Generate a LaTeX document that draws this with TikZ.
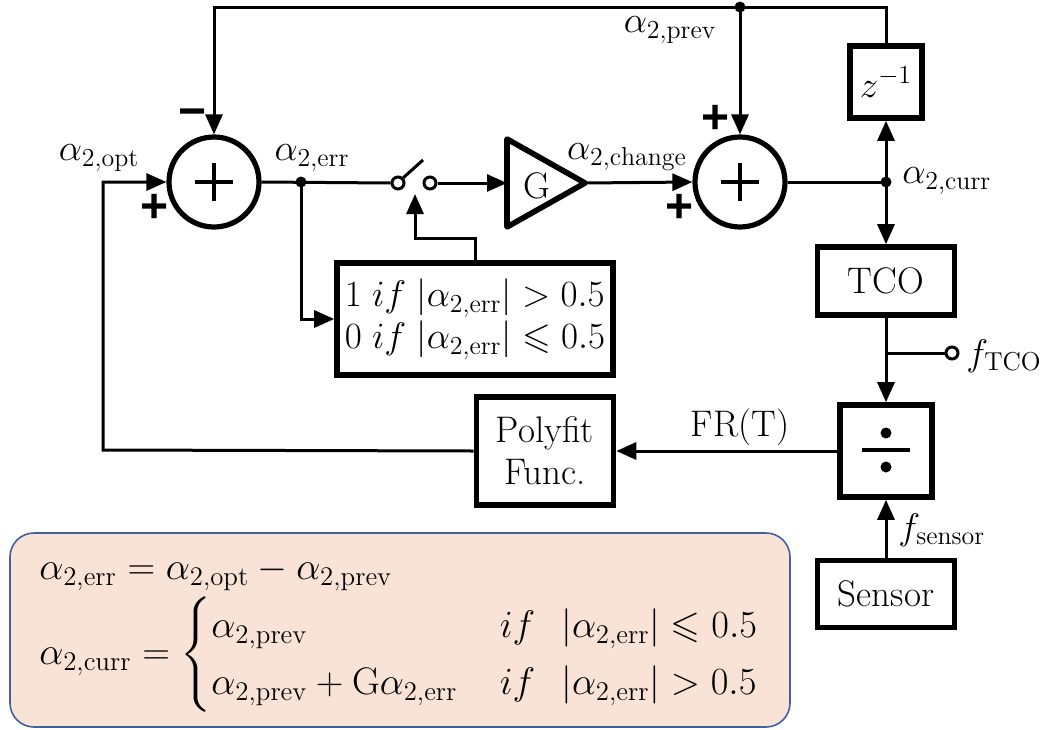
\documentclass[tikz,border=0pt]{standalone}
\usepackage{fix-cm}
\usepackage{amsmath,amssymb}
\usepackage{fontspec}
\newfontfamily\sgnfont{Liberation Sans}
\usetikzlibrary{arrows.meta}
\definecolor{peach}{HTML}{F9E3D6}
\definecolor{bborder}{HTML}{41609F}
\tikzset{
  every node/.style={font=\fontsize{18.5}{21}\selectfont, inner sep=1pt},
  conn/.style={line width=1.5pt, -{Triangle[length=10pt,width=8.5pt]}},
  wire/.style={line width=1.5pt},
  blk/.style={draw, line width=2.8pt, rectangle, inner sep=2pt},
  sumc/.style={draw, circle, line width=2.6pt, minimum size=45pt, inner sep=0pt},
  pin/.style={draw, circle, line width=1.5pt, minimum size=6pt, inner sep=0pt, fill=white},
  jdot/.style={circle, fill=black, minimum size=5.5pt, inner sep=0pt},
  sgn/.style={font=\fontsize{24}{24}\sgnfont\bfseries, inner sep=0pt},
  eqn/.style={font=\fontsize{19.2}{23}\selectfont, anchor=west}
}
\begin{document}
\begin{tikzpicture}[x=0.5pt,y=-0.5pt]
\useasboundingbox (0,0) rectangle (1050,729);

% formula box
\node[draw=bborder, fill=peach, line width=0.8pt, rounded corners=12pt,
      minimum width=390pt, minimum height=97pt] (fbox) at (400,630) {};
\node[eqn] (eq1) at (37,574)
  {$\alpha_{2,\mathrm{err}} = \alpha_{2,\mathrm{opt}} - \alpha_{2,\mathrm{prev}}$};
\node[eqn] (eq2) at (37,655)
  {$\alpha_{2,\mathrm{curr}} = \begin{cases}
     \alpha_{2,\mathrm{prev}} & if\hspace{13pt} |\alpha_{2,\mathrm{err}}| \leqslant 0.5\\[1pt]
     \alpha_{2,\mathrm{prev}} + \mathrm{G}\alpha_{2,\mathrm{err}}\hspace{2pt} & if\hspace{13pt} |\alpha_{2,\mathrm{err}}| > 0.5
   \end{cases}$};

% summers
\node[sumc] (s1) at (214,182) {};
\node[sumc] (s2) at (740,182) {};
\foreach \s in {s1,s2}{
  \draw[line width=2.2pt] (\s.center) +(-19,0) -- +(19,0);
  \draw[line width=2.2pt] (\s.center) +(0,-19) -- +(0,19);
}

% sign labels
\node[sgn] (m1) at (193,118) {−};
\node[sgn] (p1) at (155,208) {+};
\node[sgn] (p2) at (716,119) {+};
\node[sgn] (p3) at (680,208) {+};

% blocks
\node[blk, minimum width=36pt, minimum height=36pt] (zb) at (886,82) {$z^{-1}$};
\node[blk, minimum width=68.5pt, minimum height=34pt] (tco) at (886,281) {TCO};
\node[blk, minimum width=46pt, minimum height=46pt] (dv) at (886,451) {};
\node[blk, minimum width=68.5pt, minimum height=54pt, align=center] (poly) at (545,451) {Polyfit\\Func.};
\node[blk, minimum width=68.5pt, minimum height=33.5pt] (sens) at (886,594) {Sensor};
\node[blk, minimum width=138pt, minimum height=56pt, align=left] (cond) at (475,319)
  {$1\;if\;|\alpha_{2,\mathrm{err}}| > 0.5$\\$0\;if\;|\alpha_{2,\mathrm{err}}| \leqslant 0.5$};

% divider symbol
\fill (886,433) circle (5.5);
\fill (886,467) circle (5.5);
\draw[line width=2.2pt] (862,450) -- (910,450);

% gain triangle
\coordinate (gin) at (507,183);
\coordinate (gout) at (585,183);
\draw[line width=2.8pt, line join=round] (507,139) -- (gout) -- (507,227) -- cycle;
\node (g) at (537,186) {G};

% switch
\node[pin] (sw1) at (398,183) {};
\node[pin] (sw2) at (430,183) {};
\coordinate (lev) at (423,160);
\draw[wire] (sw1.north east) -- (lev);
\coordinate (swc) at (415,194);

% junctions
\coordinate (topL) at (214,7);
\coordinate (pdot) at (740,7);
\coordinate (edot) at (301,182);
\coordinate (cdot) at (886,182);
\coordinate (br) at (886,353);
\coordinate (inL) at (103,450);
\node[pin] (fo) at (952,353) {};

% connectors
\draw[conn] (zb.north) |- (topL) -- (s1.north);
\draw[conn] (pdot) -- (s2.north);
\draw[wire] (s1.east) -- (sw1.west);
\draw[conn] (edot) |- (cond.west);
\draw[conn] (cond.north) -- ++(0,-22) -| (swc);
\draw[conn] (sw2.east) -- (gin);
\draw[conn] (gout) -- (s2.west);
\draw[wire] (s2.east) -- (cdot);
\draw[conn] (cdot) -- (zb.south);
\draw[conn] (cdot) -- (tco.north);
\draw[conn] (tco.south) -- (dv.north);
\draw[wire] (br) -- (fo.west);
\draw[conn] (sens.north) -- (dv.south);
\draw[conn] (dv.west) -- (poly.east);
\draw[conn] (poly.west) -- (inL) |- (s1.west);

\node[jdot] at (pdot) {};
\node[jdot] at (edot) {};
\node[jdot] at (cdot) {};

% labels
\node (lopt) at (99,158) {$\alpha_{2,\mathrm{opt}}$};
\node (lerr) at (312,158) {$\alpha_{2,\mathrm{err}}$};
\node (lchg) at (627,157) {$\alpha_{2,\mathrm{change}}$};
\node (lprev) at (670,30) {$\alpha_{2,\mathrm{prev}}$};
\node[anchor=west] (lcurr) at (900,181) {$\alpha_{2,\mathrm{curr}}$};
\node[anchor=west] (lft) at (964,356) {$f_{\mathrm{TCO}}$};
\node[anchor=west] (lfs) at (896,530) {$f_{\mathrm{sensor}}$};
\node (lfr) at (740,427) {FR(T)};
\end{tikzpicture}
\end{document}
